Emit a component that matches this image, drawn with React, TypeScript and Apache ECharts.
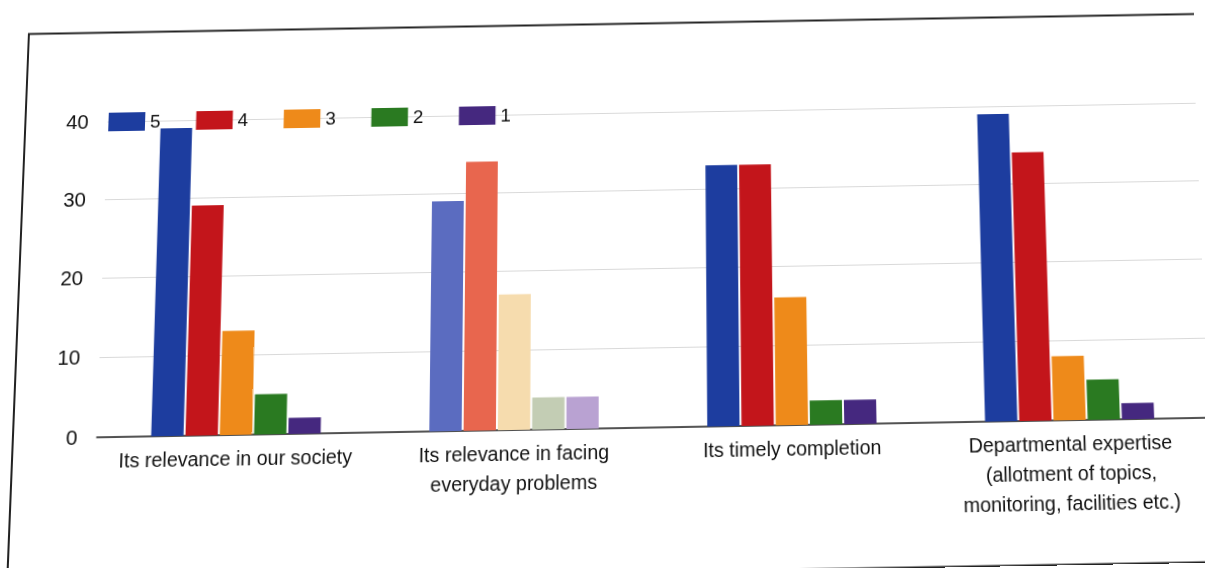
import React, { useEffect, useRef } from "react";
import * as echarts from "echarts";

const categories = [
  "Its relevance in our society",
  "Its relevance in facing\neveryday problems",
  "Its timely completion",
  "Departmental expertise\n(allotment of topics,\nmonitoring, facilities etc.)",
];
const seriesNames = ["5", "4", "3", "2", "1"];
const rating5 = [39, 29, 33, 39];
const rating4 = [29, 34, 33, 34];
const rating3 = [13, 17, 16, 8];
const rating2 = [5, 4, 3, 5];
const rating1 = [2, 4, 3, 2];
const yTicks = [0, 10, 20, 30, 40];

const colors = ["#1d3d9f", "#c3151b", "#ee8a1a", "#2a7a21", "#45287f"];
const fadedColors = ["#5b6cc0", "#e8664e", "#f6dcae", "#c3cdb4", "#b9a2d2"];

export default function App() {
  const ref = useRef<HTMLDivElement>(null);
  useEffect(() => {
    if (!ref.current) return;
    const chart = echarts.init(ref.current, null, { renderer: "svg" });
    const all = [rating5, rating4, rating3, rating2, rating1];
    const font = "'Liberation Sans', Arial, sans-serif";
    chart.setOption({
      animation: false,
      backgroundColor: "#ffffff",
      textStyle: { fontFamily: font },
      legend: {
        left: 98,
        top: 97,
        icon: "rect",
        itemWidth: 37,
        itemHeight: 19,
        itemGap: 36,
        textStyle: { fontSize: 19, color: "#111", fontFamily: font },
        data: seriesNames,
      },
      grid: { left: 102, right: 2, top: 111, bottom: 141, containLabel: false },
      xAxis: {
        type: "category",
        data: categories,
        axisTick: { show: false },
        axisLine: { lineStyle: { color: "#222", width: 1.5 } },
        axisLabel: {
          fontSize: 19.5,
          lineHeight: 29,
          color: "#111",
          margin: 9,
          interval: 0,
          fontFamily: font,
        },
      },
      yAxis: {
        type: "value",
        min: 0,
        max: 40,
        interval: 10,
        axisLine: { show: false },
        axisTick: { show: false },
        splitLine: { lineStyle: { color: "#d9d9d9", width: 1 } },
        axisLabel: {
          fontSize: 20.5,
          color: "#111",
          margin: 19,
          fontFamily: font,
          formatter: (v: number) => (yTicks.includes(v) ? String(v) : ""),
        },
      },
      graphic: [
        {
          type: "rect",
          shape: { x: 19, y: 19.5, width: 1188, height: 548 },
          style: { fill: "none", stroke: "#222", lineWidth: 2 },
          silent: true,
          z: 100,
        },
      ],
      series: all.map((vals, si) => ({
        name: seriesNames[si],
        type: "bar",
        barWidth: 32,
        barGap: "6%",
        itemStyle: { color: colors[si] },
        data: vals.map((v, ci) =>
          ci === 1 ? { value: v, itemStyle: { color: fadedColors[si] } } : v
        ),
      })),
    });
    return () => chart.dispose();
  }, []);
  return (
    <div
      ref={ref}
      style={{
        position: "fixed",
        left: 0,
        top: 0,
        width: 1205,
        height: 568,
        transform:
          "perspective(2000px) rotateX(7.74deg) scaleY(1.0092) skewY(-1deg)",
        transformOrigin: "50% 50%",
      }}
    />
  );
}
